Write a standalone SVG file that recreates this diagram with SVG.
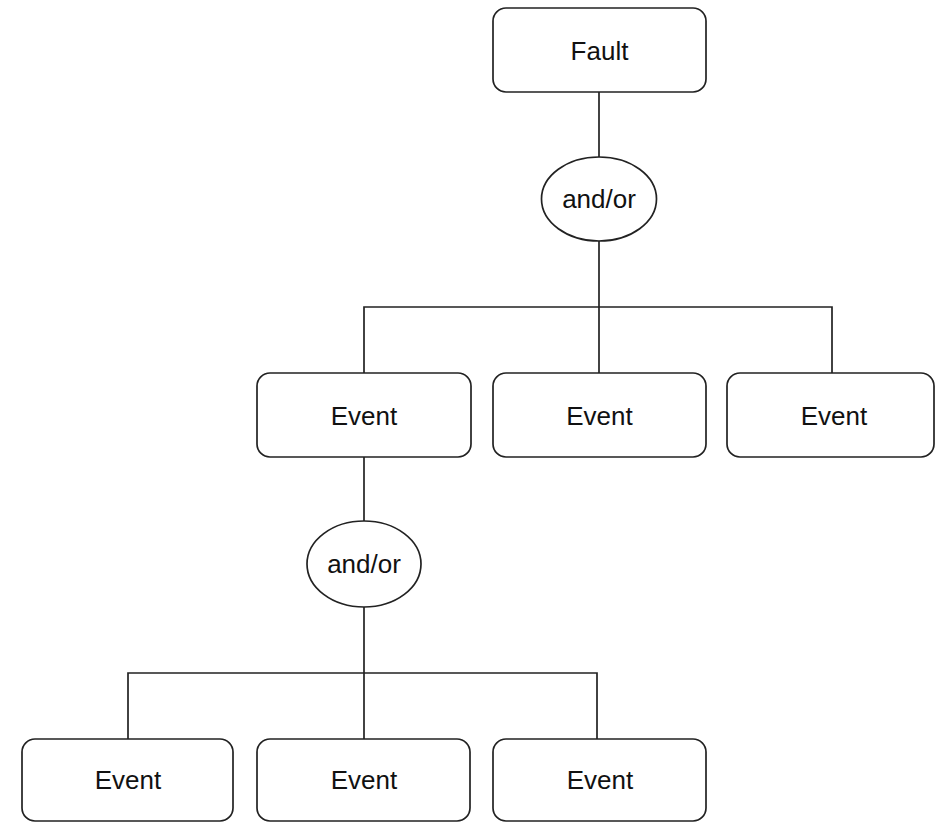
<svg xmlns="http://www.w3.org/2000/svg" width="935" height="822" viewBox="0 0 935 822">
  <style>
    .box { fill: #ffffff; stroke: #222222; stroke-width: 1.7; }
    .gate { fill: #ffffff; stroke: #222222; stroke-width: 1.7; }
    .label { font-family: "Liberation Sans", Arial, Helvetica, sans-serif; font-size: 26px; fill: #111111; text-anchor: middle; }
    .wire { fill: none; stroke: #222222; stroke-width: 1.7; }
  </style>
  <rect width="935" height="822" fill="#ffffff"/>

  <!-- connectors -->
  <g id="connectors">
    <path class="wire" d="M599 92 V157"/>
    <path class="wire" d="M599 241 V307"/>
    <path class="wire" d="M364 373 V307 H832 V373"/>
    <path class="wire" d="M599 307 V373"/>
    <path class="wire" d="M364 457 V521"/>
    <path class="wire" d="M364 607 V673"/>
    <path class="wire" d="M128 739 V673 H597 V739"/>
    <path class="wire" d="M364 673 V739"/>
  </g>

  <!-- top fault -->
  <g id="fault">
    <rect class="box" x="493" y="8" width="213" height="84" rx="13"/>
    <text class="label" x="599.5" y="59.5">Fault</text>
  </g>

  <g id="gate-top">
    <ellipse class="gate" cx="599" cy="199" rx="57.5" ry="42"/>
    <text class="label" x="599" y="208">and/or</text>
  </g>

  <!-- second level events -->
  <g id="event-1">
    <rect class="box" x="257" y="373" width="214" height="84" rx="13"/>
    <text class="label" x="364" y="424.5">Event</text>
  </g>
  <g id="event-2">
    <rect class="box" x="493" y="373" width="213" height="84" rx="13"/>
    <text class="label" x="599.5" y="424.5">Event</text>
  </g>
  <g id="event-3">
    <rect class="box" x="727" y="373" width="207" height="84" rx="13"/>
    <text class="label" x="834" y="424.5">Event</text>
  </g>

  <g id="gate-lower">
    <ellipse class="gate" cx="364" cy="564" rx="57" ry="43"/>
    <text class="label" x="364" y="573">and/or</text>
  </g>

  <!-- third level events -->
  <g id="event-4">
    <rect class="box" x="22" y="739" width="211" height="82" rx="13"/>
    <text class="label" x="128" y="789">Event</text>
  </g>
  <g id="event-5">
    <rect class="box" x="257" y="739" width="213" height="82" rx="13"/>
    <text class="label" x="364" y="789">Event</text>
  </g>
  <g id="event-6">
    <rect class="box" x="493" y="739" width="213" height="82" rx="13"/>
    <text class="label" x="600" y="789">Event</text>
  </g>
</svg>
